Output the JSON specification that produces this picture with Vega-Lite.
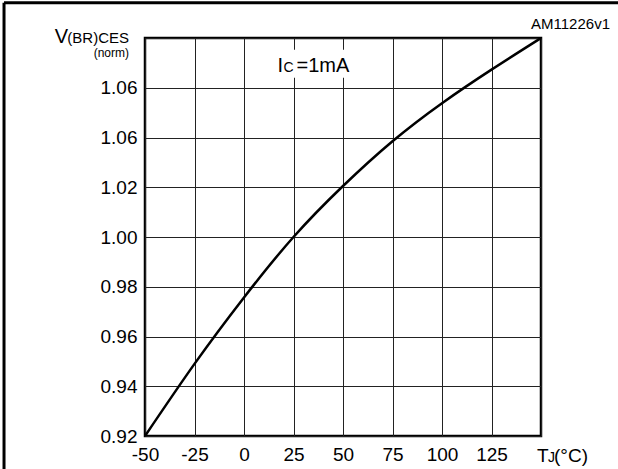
{
  "$schema": "https://vega.github.io/schema/vega-lite/v6.json",
  "autosize": "none",
  "width": 396,
  "height": 398,
  "padding": {"left": 145, "top": 38, "right": 77, "bottom": 33},
  "background": "white",
  "config": {
    "view": {"stroke": "black", "strokeWidth": 2.5},
    "font": "Liberation Sans",
    "axis": {
      "labelFont": "Liberation Sans",
      "labelFontSize": 19,
      "labelColor": "black",
      "ticks": false,
      "domain": false,
      "grid": true,
      "gridColor": "#222",
      "gridWidth": 1,
      "gridOpacity": 1,
      "labelFlush": false,
      "labelOverlap": false,
      "title": null
    },
    "text": {"font": "Liberation Sans", "color": "black"}
  },
  "datasets": {
    "curve": [
      {"T": -50, "V": 0.92},
      {"T": -25, "V": 0.949},
      {"T": 0, "V": 0.9757},
      {"T": 25, "V": 1.0},
      {"T": 50, "V": 1.0205},
      {"T": 75, "V": 1.0385},
      {"T": 100, "V": 1.0538},
      {"T": 125, "V": 1.0673},
      {"T": 150, "V": 1.08}
    ],
    "one": [{"k": 1}]
  },
  "layer": [
    {
      "data": {"name": "one"},
      "mark": {"type": "rect", "color": "white"},
      "encoding": {
        "x": {"datum": 14.1, "type": "quantitative", "scale": {"domain": [-50, 150], "nice": false, "zero": false}},
        "x2": {"datum": 57.6},
        "y": {"datum": 1.064, "type": "quantitative", "scale": {"domain": [0.92, 1.08], "nice": false, "zero": false}},
        "y2": {"datum": 1.0753}
      }
    },
    {
      "data": {"name": "curve"},
      "mark": {"type": "line", "color": "black", "strokeWidth": 2.5, "interpolate": "natural"},
      "encoding": {
        "x": {
          "field": "T", "type": "quantitative",
          "scale": {"domain": [-50, 150], "nice": false, "zero": false},
          "axis": {
            "values": [-50, -25, 0, 25, 50, 75, 100, 125, 150],
            "labelPadding": 9,
            "labelExpr": "datum.value == 150 ? '' : '' + datum.value"
          }
        },
        "y": {
          "field": "V", "type": "quantitative",
          "scale": {"domain": [0.92, 1.08], "nice": false, "zero": false},
          "axis": {
            "values": [0.92, 0.94, 0.96, 0.98, 1.0, 1.02, 1.04, 1.06, 1.08],
            "labelPadding": 8,
            "labelExpr": "abs(datum.value - 1.04) < 0.001 ? '1.06' : (datum.value > 1.075 ? '' : format(datum.value, '.2f'))"
          }
        }
      }
    },
    {
      "data": {"name": "one"},
      "mark": {"type": "text", "text": "I", "fontSize": 20, "align": "left", "baseline": "alphabetic", "dx": -16, "dy": -16},
      "encoding": {"x": {"datum": 25}, "y": {"datum": 1.06}}
    },
    {
      "data": {"name": "one"},
      "mark": {"type": "text", "text": "C", "fontSize": 14, "align": "left", "baseline": "alphabetic", "dx": -10, "dy": -16},
      "encoding": {"x": {"datum": 25}, "y": {"datum": 1.06}}
    },
    {
      "data": {"name": "one"},
      "mark": {"type": "text", "text": "=1mA", "fontSize": 20, "align": "left", "baseline": "alphabetic", "dx": 3, "dy": -16},
      "encoding": {"x": {"datum": 25}, "y": {"datum": 1.06}}
    },
    {
      "data": {"name": "one"},
      "mark": {"type": "text", "text": "V", "fontSize": 20, "align": "right", "baseline": "alphabetic", "dx": -77, "dy": 5},
      "encoding": {"x": {"datum": -50}, "y": {"datum": 1.08}}
    },
    {
      "data": {"name": "one"},
      "mark": {"type": "text", "text": "(BR)CES", "fontSize": 15, "align": "right", "baseline": "alphabetic", "dx": -16, "dy": 5},
      "encoding": {"x": {"datum": -50}, "y": {"datum": 1.08}}
    },
    {
      "data": {"name": "one"},
      "mark": {"type": "text", "text": "(norm)", "fontSize": 12, "align": "right", "baseline": "alphabetic", "dx": -16, "dy": 19},
      "encoding": {"x": {"datum": -50}, "y": {"datum": 1.08}}
    },
    {
      "data": {"name": "one"},
      "mark": {"type": "text", "text": "AM11226v1", "fontSize": 15, "align": "right", "baseline": "alphabetic", "dx": 69, "dy": -9},
      "encoding": {"x": {"datum": 150}, "y": {"datum": 1.08}}
    },
    {
      "data": {"name": "one"},
      "mark": {"type": "text", "text": "T", "fontSize": 19, "align": "left", "baseline": "alphabetic", "dx": -4, "dy": 26},
      "encoding": {"x": {"datum": 150}, "y": {"datum": 0.92}}
    },
    {
      "data": {"name": "one"},
      "mark": {"type": "text", "text": "J", "fontSize": 14, "align": "left", "baseline": "alphabetic", "dx": 7, "dy": 26},
      "encoding": {"x": {"datum": 150}, "y": {"datum": 0.92}}
    },
    {
      "data": {"name": "one"},
      "mark": {"type": "text", "text": "(°C)", "fontSize": 19, "align": "left", "baseline": "alphabetic", "dx": 13, "dy": 26},
      "encoding": {"x": {"datum": 150}, "y": {"datum": 0.92}}
    },
    {
      "data": {"name": "one"},
      "mark": {"type": "rule", "color": "black", "strokeWidth": 3},
      "encoding": {"x": {"datum": -121.2}, "y": {"datum": 1.0942}, "y2": {"datum": 0.9}}
    },
    {
      "data": {"name": "one"},
      "mark": {"type": "rule", "color": "black", "strokeWidth": 3},
      "encoding": {"y": {"datum": 1.0942}, "x": {"datum": -121.2}, "x2": {"datum": 190}}
    }
  ]
}
